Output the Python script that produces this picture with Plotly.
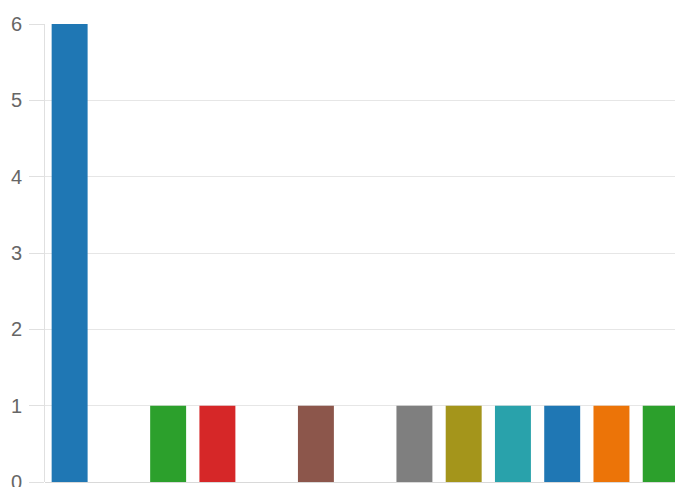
import plotly.graph_objects as go

categories = [f"c{i}" for i in range(13)]
values = [6, 0, 1, 1, 0, 1, 0, 1, 1, 1, 1, 1, 1]
palette = ["#1f77b4", "#ec7408", "#2ca02c", "#d62728", "#9467bd", "#8c564b",
           "#e377c2", "#7f7f7f", "#a4951b", "#29a2ab"]
colors = [palette[i % len(palette)] for i in range(len(categories))]
y_ticks = [0, 1, 2, 3, 4, 5, 6]

fig = go.Figure(go.Bar(
    x=categories, y=values,
    marker=dict(color=colors, line=dict(width=0)),
))

fig.update_layout(
    width=675, height=487,
    margin=dict(l=45, r=0, t=24, b=5, autoexpand=False),
    plot_bgcolor="white", paper_bgcolor="white",
    bargap=0.27,
    showlegend=False,
    font=dict(family="Liberation Sans, Arial, sans-serif", size=20, color="#666666"),
)
fig.update_xaxes(range=[-0.5, 12.29], showticklabels=False, showgrid=False,
                 showline=False, zeroline=False, automargin=False)
fig.update_yaxes(range=[0, 6], tickvals=y_ticks, showgrid=True, gridcolor="#e6e6e6",
                 gridwidth=1, showline=True, linecolor="#e0e0e0", linewidth=1,
                 ticks="outside", ticklen=15, tickcolor="#e0e0e0", tickwidth=1,
                 ticklabelstandoff=3, ticklabeloverflow="allow", automargin=False,
                 zeroline=True, zerolinecolor="#d9d9d9", zerolinewidth=1)

fig.write_html("out.html", config={"displayModeBar": False},
               post_script="document.body.style.margin='0';")
